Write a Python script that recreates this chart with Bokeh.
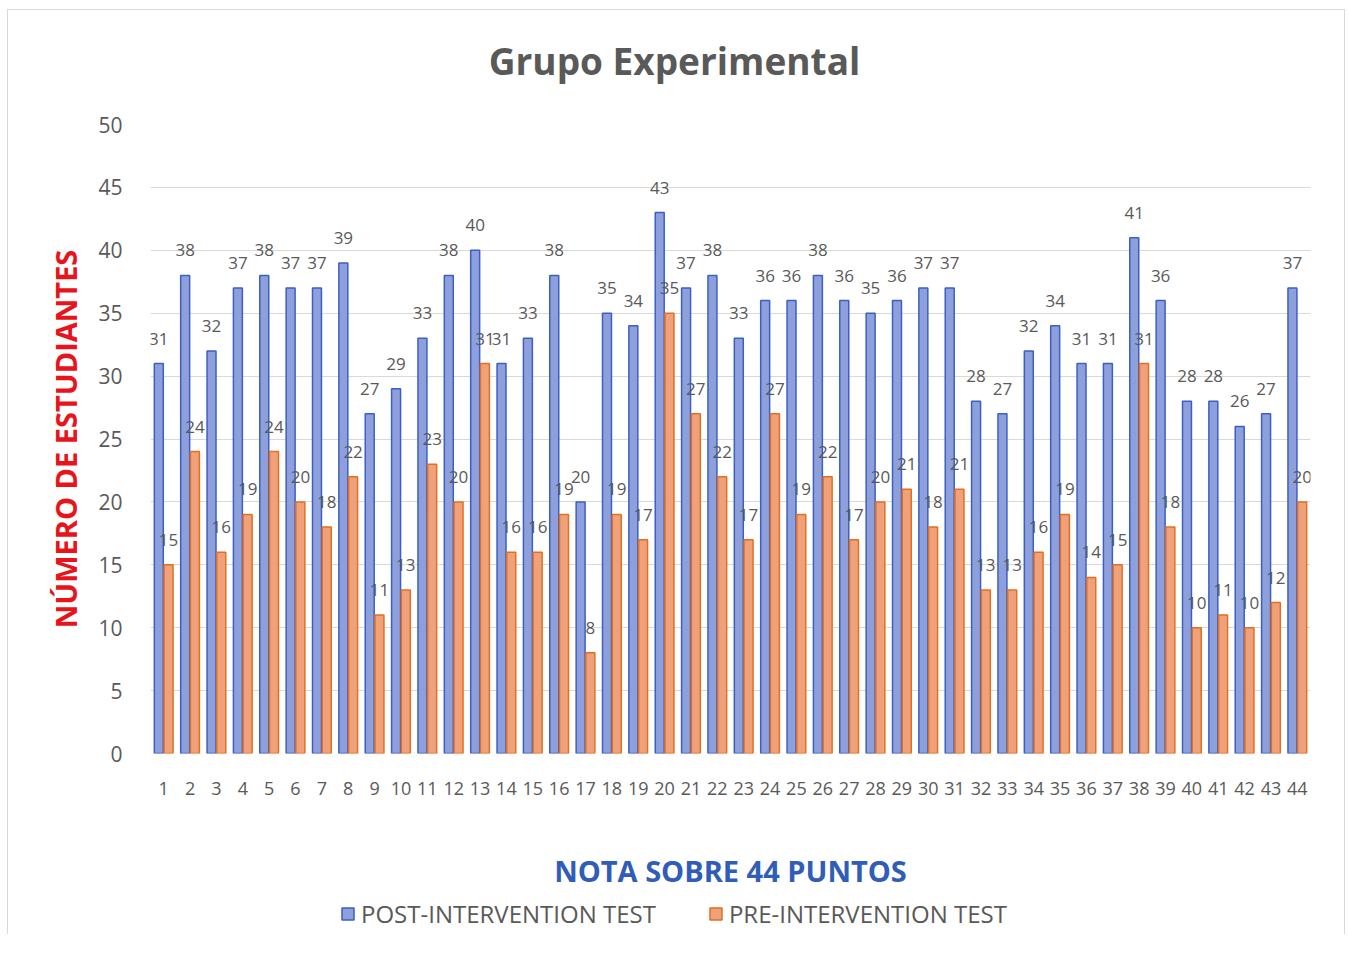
from bokeh.plotting import figure
from bokeh.layouts import column
from bokeh.models import (ColumnDataSource, Range1d, FixedTicker, Legend, LegendItem,
                          LabelSet, Label)
from bokeh.embed import file_html
from bokeh.resources import INLINE
from bokeh.core.properties import value

categories = list(range(1, 45))
post = [31, 38, 32, 37, 38, 37, 37, 39, 27, 29, 33, 38, 40, 31, 33, 38, 20, 35, 34, 43,
        37, 38, 33, 36, 36, 38, 36, 35, 36, 37, 37, 28, 27, 32, 34, 31, 31, 41, 36, 28,
        28, 26, 27, 37]
pre = [15, 24, 16, 19, 24, 20, 18, 22, 11, 13, 23, 20, 31, 16, 16, 19, 8, 19, 17, 35,
       27, 22, 17, 27, 19, 22, 17, 20, 21, 18, 21, 13, 13, 16, 19, 14, 15, 31, 18, 10,
       11, 10, 12, 20]
y_ticks = list(range(0, 55, 5))
series_names = ["POST-INTERVENTION TEST", "PRE-INTERVENTION TEST"]
title_text = "Grupo Experimental"

FONT = "Open Sans"
GRAY = "#595959"
BLUE_FILL, BLUE_LINE = "#8EA0DB", "#3D5FC4"
ORANGE_FILL, ORANGE_LINE = "#EFA17B", "#E2701F"
W = 1336

# ---------- title strip (its frame is aligned with the chart frame) ----------
t = figure(width=W, height=100, output_backend="svg", toolbar_location=None,
           x_range=Range1d(0, 1), y_range=Range1d(0, 1),
           min_border_left=0, min_border_right=0, min_border_top=0, min_border_bottom=0)
t.axis.visible = False
t.grid.visible = False
t.outline_line_color = None
t.add_layout(Label(x=524, y=50, x_units="screen", y_units="screen", text=title_text,
                   text_align="center", text_baseline="middle",
                   text_font=FONT, text_font_style="bold",
                   text_font_size="37px", text_color=GRAY))

# ---------- main chart ----------
post_x = [c - 0.185 for c in categories]
pre_x = [c + 0.185 for c in categories]
src_post = ColumnDataSource(dict(x=post_x, top=post, lab=[str(v) for v in post]))
src_pre = ColumnDataSource(dict(x=pre_x, top=pre, lab=[str(v) for v in pre]))

p = figure(width=W, height=784, output_backend="svg", toolbar_location=None,
           x_range=Range1d(0.5, 44.5), y_range=Range1d(0, 50),
           min_border_left=142, min_border_right=34, min_border_top=14,
           min_border_bottom=141)
p.outline_line_color = None

r1 = p.vbar(x="x", top="top", width=0.34, source=src_post,
            fill_color=BLUE_FILL, line_color=BLUE_LINE, line_width=1.5)
r2 = p.vbar(x="x", top="top", width=0.34, source=src_pre,
            fill_color=ORANGE_FILL, line_color=ORANGE_LINE, line_width=1.5)

for src in (src_post, src_pre):
    p.add_layout(LabelSet(x="x", y="top", text="lab", source=src, y_offset=19,
                          text_align="center", text_baseline="bottom",
                          text_font=value(FONT), text_font_size="17px",
                          text_color=GRAY))

p.yaxis.ticker = FixedTicker(ticks=y_ticks)
p.xaxis.ticker = FixedTicker(ticks=categories)
for ax in (p.xaxis, p.yaxis):
    ax.axis_line_color = None
    ax.major_tick_line_color = None
    ax.minor_tick_line_color = None
    ax.major_label_text_font = FONT
    ax.major_label_text_color = GRAY
p.yaxis.major_label_text_font_size = "21px"
p.xaxis.major_label_text_font_size = "18px"
p.yaxis.major_label_standoff = 22
p.xaxis.major_label_standoff = 22

p.yaxis.axis_label = "NÚMERO DE ESTUDIANTES"
p.yaxis.axis_label_text_font = FONT
p.yaxis.axis_label_text_font_style = "bold"
p.yaxis.axis_label_text_font_size = "29px"
p.yaxis.axis_label_text_color = "#E8141B"
p.yaxis.axis_label_standoff = 10

p.xaxis.axis_label = "NOTA SOBRE 44 PUNTOS"
p.xaxis.axis_label_text_font = FONT
p.xaxis.axis_label_text_font_style = "bold"
p.xaxis.axis_label_text_font_size = "29px"
p.xaxis.axis_label_text_color = "#2F5DB8"
p.xaxis.axis_label_standoff = 53

p.xgrid.grid_line_color = None
p.ygrid.grid_line_color = "#D9D9D9"
p.ygrid.grid_line_width = 1

# ---------- legend strip ----------
q = figure(width=W, height=40, output_backend="svg", toolbar_location=None,
           x_range=Range1d(0, 1), y_range=Range1d(0, 1),
           min_border_left=0, min_border_right=0, min_border_top=0, min_border_bottom=0)
q.axis.visible = False
q.grid.visible = False
q.outline_line_color = None
# hidden swatch renderers: only their legend glyphs are shown
l1 = q.vbar(x="x", top="top", width=0.34,
            source=ColumnDataSource(dict(x=post_x[:1], top=post[:1])),
            fill_color=BLUE_FILL, line_color=BLUE_LINE, line_width=1.5)
l2 = q.vbar(x="x", top="top", width=0.34,
            source=ColumnDataSource(dict(x=pre_x[:1], top=pre[:1])),
            fill_color=ORANGE_FILL, line_color=ORANGE_LINE, line_width=1.5)
l1.visible = False
l2.visible = False
legend = Legend(items=[LegendItem(label=series_names[0], renderers=[l1], index=0),
                       LegendItem(label=series_names[1], renderers=[l2], index=0)],
                orientation="horizontal", location=(190, 4),
                label_text_font=FONT, label_text_font_size="24px",
                label_text_color=GRAY, glyph_width=15, glyph_height=15,
                spacing=52, label_standoff=6, border_line_color=None,
                background_fill_alpha=0, padding=0, margin=0)
q.add_layout(legend, "center")

layout = column(t, p, q, spacing=0,
                styles={"border-top": "1px solid #d9d9d9",
                        "border-left": "1px solid #d9d9d9",
                        "border-right": "1px solid #d9d9d9",
                        "margin": "9px 0px 0px 7px"})

open("out.html", "w").write(file_html(layout, INLINE))
